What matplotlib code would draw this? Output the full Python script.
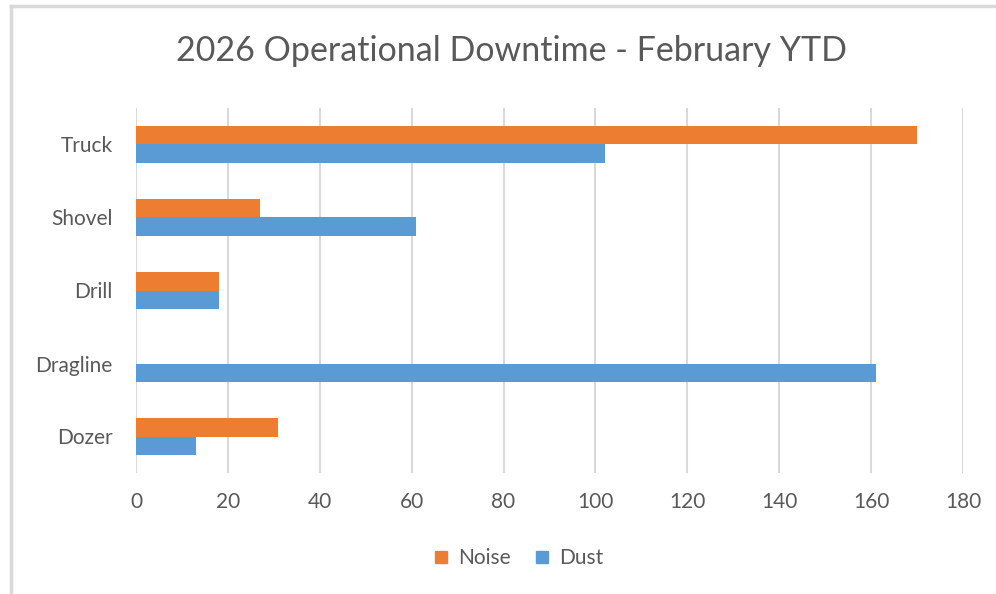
import numpy as np
import matplotlib.pyplot as plt
from matplotlib.lines import Line2D

plt.rcParams['font.family'] = ['Lato', 'DejaVu Sans']

categories = ["Truck", "Shovel", "Drill", "Dragline", "Dozer"]
noise = [170, 27, 18, 0, 31]
dust = [102, 61, 18, 161, 13]
xticks = [0, 20, 40, 60, 80, 100, 120, 140, 160, 180]

ORANGE = "#ED7D31"
BLUE = "#5B9BD5"
GRID = "#D9D9D9"
TEXT = "#595959"

fig = plt.figure(figsize=(9.96, 5.94), dpi=100)
ax = fig.add_axes([136 / 996, 1 - 473 / 594, 827 / 996, 365 / 594])

y = np.arange(len(categories))
h = 0.25
ax.barh(y - h / 2, noise, height=h, color=ORANGE, label="Noise", zorder=3)
ax.barh(y + h / 2, dust, height=h, color=BLUE, label="Dust", zorder=3)

ax.set_xlim(0, 180)
ax.set_ylim(len(categories) - 0.5, -0.5)
ax.set_xticks(xticks)
ax.set_xticklabels([str(t) for t in xticks])
ax.set_yticks(y)
ax.set_yticklabels(categories)
ax.tick_params(axis="both", length=0, labelsize=15, colors=TEXT)
ax.tick_params(axis="x", pad=14)
ax.tick_params(axis="y", pad=17)
ax.grid(axis="x", color=GRID, linewidth=1.5, zorder=0)
for s in ax.spines.values():
    s.set_visible(False)

fig.suptitle("2026 Operational Downtime - February YTD", x=512 / 996, y=1 - 51 / 594,
             va="center", fontsize=24.5, color=TEXT)

handles = [Line2D([], [], marker="s", linestyle="none", markersize=9, color=ORANGE),
           Line2D([], [], marker="s", linestyle="none", markersize=9, color=BLUE)]
fig.legend(handles, ["Noise", "Dust"], loc="center", bbox_to_anchor=(517 / 996, 1 - 558 / 594),
           ncol=2, frameon=False, fontsize=15, labelcolor=TEXT, handletextpad=0.3,
           columnspacing=1.0, handlelength=1.0)

# chart frame (top and left edges visible)
fig.add_artist(Line2D([11 / 996, 1], [1 - 6 / 594, 1 - 6 / 594], color=GRID, linewidth=2.5,
                      transform=fig.transFigure))
fig.add_artist(Line2D([11 / 996, 11 / 996], [0, 1 - 6 / 594], color=GRID, linewidth=2.5,
                      transform=fig.transFigure))

fig.savefig("out.png", dpi=100, facecolor="white")
